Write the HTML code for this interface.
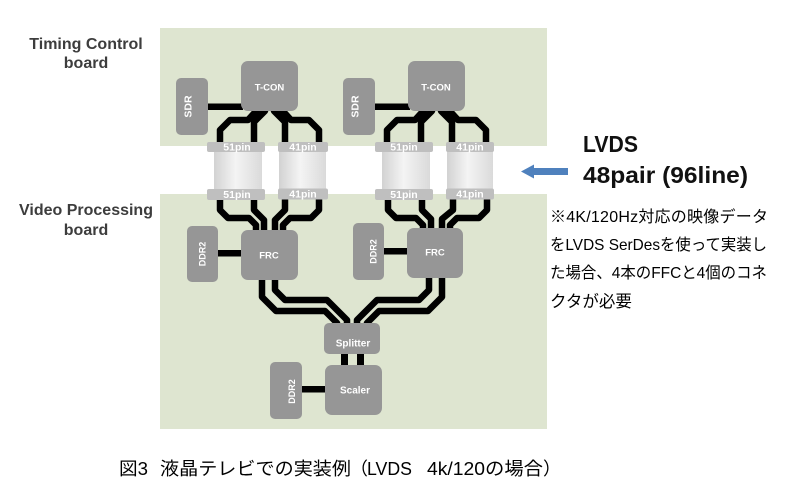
<!DOCTYPE html>
<html><head><meta charset="utf-8">
<style>
html,body{margin:0;padding:0;background:#fff;}
svg{display:block;}
.bx{fill:#969696;}
.lb{fill:#fff;font-family:"Liberation Sans",sans-serif;font-weight:bold;}
.bar{fill:#bfbfbf;}
.bt{fill:#fff;font-family:"Liberation Sans",sans-serif;font-weight:bold;font-size:10.5px;text-anchor:middle;}
.jp{font-family:"Liberation Sans","Noto Sans CJK JP",sans-serif;fill:#000;}
</style></head><body>
<svg width="788" height="502" viewBox="0 0 788 502" xmlns="http://www.w3.org/2000/svg">
<defs>
<linearGradient id="cyl" x1="0" x2="1" y1="0" y2="0">
<stop offset="0" stop-color="#d2d2d2"/>
<stop offset="0.45" stop-color="#f4f4f4"/>
<stop offset="1" stop-color="#dadada"/>
</linearGradient>
</defs>

<!-- boards -->
<rect x="160" y="28" width="387" height="118" fill="#dee5d0"/>
<rect x="160" y="194" width="387" height="235" fill="#dee5d0"/>

<!-- left board labels -->
<g font-family="Liberation Sans, sans-serif" font-weight="bold" font-size="16" fill="#3d3d3d" text-anchor="middle">
<text x="86" y="49">Timing Control</text>
<text x="86" y="68">board</text>
<text x="86" y="215">Video Processing</text>
<text x="86" y="235">board</text>
</g>

<!-- traces left group -->
<g fill="none" stroke="#000" stroke-width="6.5" stroke-linejoin="round">
<path d="M259,108 L248,120 H230 L220,130 V146"/>
<path d="M265,108 V111 L254,122 V146"/>
<path d="M274,108 V111 L285,122 V146"/>
<path d="M280,108 L291,120 H309 L319,130 V146"/>
<path d="M220,196 V210 L228,218 H249 L256,225 V234"/>
<path d="M254,196 V210 L264,220 V234"/>
<path d="M285,196 V210 L275,220 V234"/>
<path d="M319,196 V210 L311,218 H290 L283,225 V234"/>
</g>
<!-- traces right group -->
<g fill="none" stroke="#000" stroke-width="6.5" stroke-linejoin="round" transform="translate(167,0)">
<path d="M259,108 L248,120 H230 L220,130 V146"/>
<path d="M265,108 V111 L254,122 V146"/>
<path d="M274,108 V111 L285,122 V146"/>
<path d="M280,108 L291,120 H309 L319,130 V146"/>
<path d="M221,196 V210 L229,218 H249 L256,225 V234"/>
<path d="M255,196 V210 L264,219 V234"/>
<path d="M286,196 V210 L275,219 V234"/>
<path d="M320,196 V210 L312,218 H290 L283,225 V234"/>
</g>
<!-- FRC -> Splitter -->
<g fill="none" stroke="#000" stroke-width="6.5" stroke-linejoin="round">
<path d="M262,276 V297 L276,311 H325 L337,323 V328"/>
<path d="M275,276 V290 L285,300 H327 L347,320 V328"/>
<path d="M442,274 V297 L428,311 H379 L367,323 V328"/>
<path d="M429,274 V290 L419,300 H377 L357,320 V328"/>
</g>

<!-- straight links -->
<g fill="#000">
<rect x="206" y="103.5" width="37" height="6.5"/>
<rect x="373" y="103.5" width="37" height="6.5"/>
<rect x="216" y="250" width="27" height="6.5"/>
<rect x="382" y="248" width="27" height="6.5"/>
<rect x="300" y="386" width="27" height="6.5"/>
<rect x="341" y="352" width="7" height="15"/>
<rect x="357" y="352" width="7" height="15"/>
</g>

<!-- boxes -->
<rect class="bx" x="176" y="78" width="32" height="57" rx="5"/>
<rect class="bx" x="241" y="61" width="57" height="50" rx="7"/>
<rect class="bx" x="343" y="78" width="32" height="57" rx="5"/>
<rect class="bx" x="408" y="61" width="57" height="50" rx="7"/>
<rect class="bx" x="187" y="226" width="31" height="56" rx="5"/>
<rect class="bx" x="241" y="230" width="57" height="50" rx="7"/>
<rect class="bx" x="353" y="223" width="31" height="57" rx="5"/>
<rect class="bx" x="407" y="228" width="56" height="50" rx="7"/>
<rect class="bx" x="324" y="323" width="56" height="31" rx="5"/>
<rect class="bx" x="325" y="365" width="57" height="50" rx="7"/>
<rect class="bx" x="270" y="362" width="32" height="57" rx="5"/>

<!-- box labels -->
<text class="lb" font-size="9.5" x="269.5" y="90.5" text-anchor="middle">T-CON</text>
<text class="lb" font-size="9.5" x="436" y="90.5" text-anchor="middle">T-CON</text>
<text class="lb" font-size="10.5" text-anchor="middle" transform="translate(191.5,106.5) rotate(-90)">SDR</text>
<text class="lb" font-size="10.5" text-anchor="middle" transform="translate(358.5,106.5) rotate(-90)">SDR</text>
<text class="lb" font-size="9" text-anchor="middle" transform="translate(205.5,254) rotate(-90)">DDR2</text>
<text class="lb" font-size="9" text-anchor="middle" transform="translate(376.5,251.5) rotate(-90)">DDR2</text>
<text class="lb" font-size="9" text-anchor="middle" transform="translate(295,391.5) rotate(-90)">DDR2</text>
<text class="lb" font-size="9.5" x="269" y="258.5" text-anchor="middle">FRC</text>
<text class="lb" font-size="9.5" x="435" y="255.5" text-anchor="middle">FRC</text>
<text class="lb" font-size="10" x="353" y="346.5" text-anchor="middle">Splitter</text>
<text class="lb" font-size="10" x="355" y="393.5" text-anchor="middle">Scaler</text>

<!-- connectors left -->
<rect x="214" y="150" width="48" height="41" fill="url(#cyl)"/>
<rect x="279" y="150" width="47" height="41" fill="url(#cyl)"/>
<rect class="bar" x="207" y="142" width="58" height="10" rx="2"/>
<rect class="bar" x="207" y="189" width="58" height="11" rx="2"/>
<rect class="bar" x="278" y="142" width="50" height="10" rx="2"/>
<rect class="bar" x="278" y="188.5" width="50" height="11" rx="2"/>
<text class="bt" x="237" y="150.5">51pin</text>
<text class="bt" x="237" y="198">51pin</text>
<text class="bt" x="303" y="150.5">41pin</text>
<text class="bt" x="303" y="197.5">41pin</text>
<!-- connectors right -->
<rect x="382" y="150" width="48" height="41" fill="url(#cyl)"/>
<rect x="447" y="150" width="46" height="41" fill="url(#cyl)"/>
<rect class="bar" x="375" y="142" width="58" height="10" rx="2"/>
<rect class="bar" x="375" y="189" width="58" height="11" rx="2"/>
<rect class="bar" x="446" y="142" width="48" height="10" rx="2"/>
<rect class="bar" x="446" y="188.5" width="48" height="11" rx="2"/>
<text class="bt" x="404" y="150.5">51pin</text>
<text class="bt" x="404" y="198">51pin</text>
<text class="bt" x="470" y="150.5">41pin</text>
<text class="bt" x="470" y="197.5">41pin</text>

<!-- arrow -->
<polygon points="521,171.5 534,164.5 534,168 568,168 568,175 534,175 534,178.5" fill="#4f81bd"/>

<!-- LVDS heading -->
<g font-family="Liberation Sans, sans-serif" font-weight="bold" font-size="23" fill="#111">
<text x="583" y="152" textLength="55" lengthAdjust="spacingAndGlyphs">LVDS</text>
<text x="583" y="183" textLength="165" lengthAdjust="spacingAndGlyphs">48pair (96line)</text>
</g>

<!-- note -->
<g class="jp" font-size="16">
<text class="jp" x="550" y="222" textLength="218" lengthAdjust="spacing">※4K/120Hz対応の映像データ</text>
<text class="jp" x="550" y="250" textLength="217" lengthAdjust="spacingAndGlyphs">をLVDS SerDesを使って実装し</text>
<text class="jp" x="550" y="278" textLength="217" lengthAdjust="spacingAndGlyphs">た場合、4本のFFCと4個のコネ</text>
<text class="jp" x="550" y="307" font-size="16.5">クタが必要</text>
</g>

<!-- caption -->
<g class="jp" font-size="18">
<text class="jp" x="119" y="475" textLength="29" lengthAdjust="spacingAndGlyphs">図3</text>
<text class="jp" x="160" y="475" textLength="191" lengthAdjust="spacingAndGlyphs">液晶テレビでの実装例</text>
<text class="jp" x="350" y="475">（</text>
<text class="jp" x="367" y="475" textLength="45" lengthAdjust="spacingAndGlyphs">LVDS</text>
<text class="jp" x="427" y="475" textLength="116" lengthAdjust="spacingAndGlyphs">4k/120の場合</text>
<text class="jp" x="543" y="475">）</text>
</g>
</svg>
</body></html>
